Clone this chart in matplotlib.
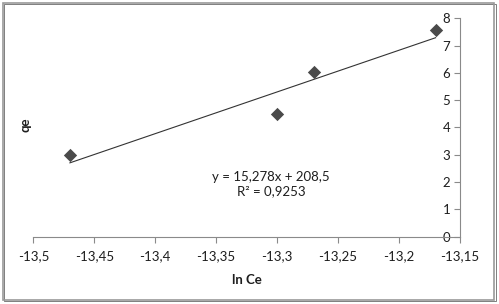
import numpy as np
import matplotlib.pyplot as plt
from matplotlib.patches import Rectangle

# data
ln_ce = [-13.47, -13.30, -13.27, -13.17]
qe = [2.98, 4.49, 6.05, 7.57]
slope = 15.278
intercept = 208.5
r2 = 0.9253
x_ticks = [-13.5, -13.45, -13.4, -13.35, -13.3, -13.25, -13.2, -13.15]
y_ticks = [0, 1, 2, 3, 4, 5, 6, 7, 8]

plt.rcParams['font.family'] = ['Lato', 'DejaVu Sans']

fig = plt.figure(figsize=(4.99, 3.04), dpi=100)
ax = fig.add_axes([0.0668, 0.2214, 0.8550, 0.7184])

axis_col = '#8a8a8a'
txt_col = '#1e1e1e'
ax.scatter(ln_ce, qe, marker='D', s=46, color='#4a4a4a', zorder=3, linewidths=0)

# linear trendline over the data range
xs = np.array([min(ln_ce), max(ln_ce)])
ax.plot(xs, slope * xs + intercept, color='#333333', lw=0.8, zorder=2)

ax.set_xlim(-13.5, -13.15)
ax.set_ylim(0, 8)
ax.set_xticks(x_ticks)
ax.set_yticks(y_ticks)
ax.set_xticklabels([('%g' % v).replace('.', ',') for v in x_ticks])
ax.set_yticklabels([str(v) for v in y_ticks])

for s in ['top', 'right']:
    ax.spines[s].set_visible(False)
ax.spines['left'].set_position(('data', -13.15))
ax.spines['left'].set_color(axis_col)
ax.spines['bottom'].set_color(axis_col)
ax.tick_params(axis='both', colors=axis_col, labelcolor=txt_col, labelsize=9.5,
               length=4, width=0.8, direction='out')
ax.tick_params(axis='x', pad=6)
ax.tick_params(axis='y', pad=3)

ax.set_xlabel('ln Ce', fontsize=9.5, fontweight='bold', color=txt_col, labelpad=8)
fig.text(0.052, 0.59, 'qe', rotation=90, fontsize=9.5, fontweight='bold',
         color=txt_col, ha='center', va='center')

ax.text(-13.305, 1.92, 'y = 15,278x + 208,5\nR\u00b2 = ' + ('%g' % r2).replace('.', ','),
        fontsize=9.5, color=txt_col, ha='center', va='center', linespacing=1.25)

fig.patches.append(Rectangle((0.006, 0.012), 0.984, 0.978, transform=fig.transFigure,
                             fill=False, edgecolor='#9a9a9a', lw=1.2))
fig.patches.append(Rectangle((0.008, 0.009), 0.985, 0.978, transform=fig.transFigure,
                             fill=False, edgecolor='#6a6a6a', lw=0.6, zorder=0))

fig.savefig('out.png', dpi=100)
